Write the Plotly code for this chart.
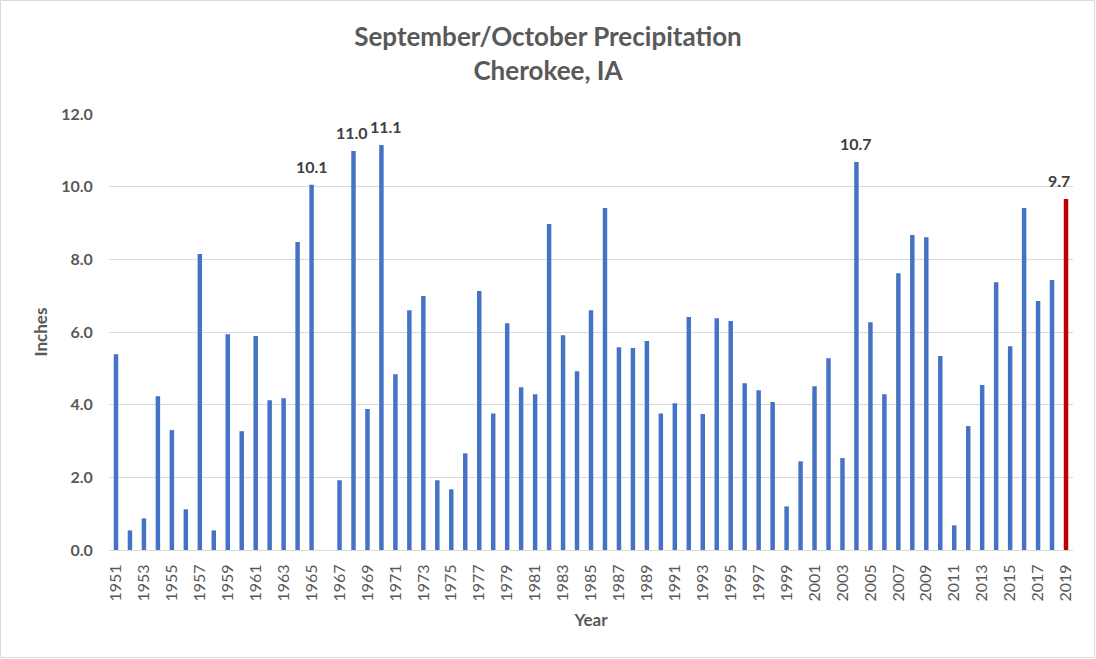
import plotly.graph_objects as go

years = [str(y) for y in range(1951, 2020)]
precip = [
    5.39, 0.54, 0.87, 4.23, 3.30, 1.12, 8.15, 0.54, 5.94, 3.27,
    5.89, 4.12, 4.18, 8.48, 10.05, None, 1.92, 10.98, 3.88, 11.15,
    4.84, 6.60, 6.99, 1.92, 1.67, 2.66, 7.13, 3.76, 6.24, 4.48,
    4.29, 8.97, 5.91, 4.92, 6.60, 9.41, 5.58, 5.56, 5.75, 3.76,
    4.04, 6.41, 3.74, 6.38, 6.30, 4.59, 4.40, 4.07, 1.20, 2.44,
    4.51, 5.28, 2.53, 10.68, 6.27, 4.29, 7.62, 8.67, 8.61, 5.34,
    0.68, 3.41, 4.54, 7.37, 5.61, 9.41, 6.85, 7.43, 9.66,
]
highlight_year = "2019"
label_years = ["1965", "1968", "1970", "2004", "2019"]
label_texts = ["10.1", "11.0", "11.1", "10.7", "9.7"]
label_xshift = [0, -1, 5, 0, -7]
tick_years = [str(y) for y in range(1951, 2020, 2)]
y_ticks = [0, 2, 4, 6, 8, 10, 12]

colors = ["#C00000" if y == highlight_year else "#4472C4" for y in years]

fig = go.Figure()
fig.add_trace(go.Bar(x=years, y=precip, marker=dict(color=colors, line=dict(width=0)),
                     hoverinfo="x+y"))

for yr, txt, dx in zip(label_years, label_texts, label_xshift):
    idx = years.index(yr)
    fig.add_annotation(x=idx, y=precip[idx], text=txt, showarrow=False, yanchor="bottom",
                       xshift=dx, yshift=7,
                       font=dict(family="Lato", size=16, color="#404040", weight="bold"))

W, H = 1096, 659
L, R, T, B = 109, 23, 114, 109
pw, ph = W - L - R, H - T - B

fig.add_shape(type="rect", xref="paper", yref="paper",
              x0=(0.5 - L) / pw, x1=(W - 1.5 - L) / pw,
              y0=-(H - 1.5 - T - ph) / ph, y1=1 + (T - 0.5) / ph,
              line=dict(color="#d9d9d9", width=1), layer="below")

fig.update_layout(
    width=W, height=H,
    margin=dict(l=L, r=R, t=T, b=B, autoexpand=False),
    paper_bgcolor="white", plot_bgcolor="white",
    bargap=0.68,
    showlegend=False,
    font=dict(family="Lato", color="#595959"),
    title=dict(text="September/October Precipitation<br>Cherokee, IA",
               x=0.5, xref="container", xanchor="center", y=1 - 46 / H, yanchor="top",
               font=dict(family="Lato", size=26, color="#595959", weight="bold")),
    xaxis=dict(type="category", range=[-0.5, len(years) - 0.5], autorange=False,
               tickmode="array", tickvals=tick_years, ticktext=tick_years,
               tickangle=-90, tickfont=dict(size=16, color="#595959"),
               ticklabelstandoff=7,
               showgrid=False, showline=True, linecolor="#d9d9d9", linewidth=1,
               ticks="", title=dict(text="Year", standoff=13,
                                    font=dict(size=17, color="#595959", weight="bold"))),
    yaxis=dict(range=[0, 12], autorange=False, tickvals=y_ticks, tickformat=".1f",
               tickfont=dict(size=16, color="#595959", weight="bold"),
               showgrid=True, gridcolor="#d9d9d9", gridwidth=1, zeroline=False,
               ticks="outside", ticklen=12, tickcolor="white",
               title=dict(text="Inches", standoff=9,
                          font=dict(size=17, color="#595959", weight="bold"))),
)

fig.write_html("out.html", config={"displayModeBar": False},
               post_script="document.body.style.margin='0';")
